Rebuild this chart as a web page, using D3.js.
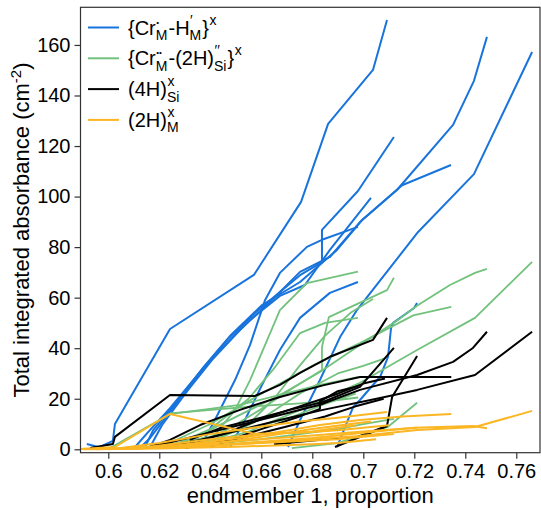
<!DOCTYPE html>
<html><head><meta charset="utf-8">
<script src="https://cdn.jsdelivr.net/npm/d3@7"></script>
<style>body{margin:0;background:#fff}svg{display:block}text{font-family:"Liberation Sans",Arial,sans-serif;fill:#000}</style>
</head><body><svg id="c" width="541" height="510"></svg>
<script>
// ---- data (x = endmember 1 proportion, y = total integrated absorbance) ----
const seriesNames = ["CrH", "Cr2H", "4HSi", "2HM"];
const seriesColors = ["#1874dc", "#72c27d", "#000000", "#fbb623"];
const xTicks = [0.6, 0.62, 0.64, 0.66, 0.68, 0.7, 0.72, 0.74, 0.76];
const xTickLabels = ["0.6", "0.62", "0.64", "0.66", "0.68", "0.7", "0.72", "0.74", "0.76"];
const yTicks = [0, 20, 40, 60, 80, 100, 120, 140, 160];

const blueLines = [
  [[0.5916,2.1],[0.5960,0.9],[0.5991,0.5]],
  [[0.5967,0.9],[0.6018,3.3],[0.6026,10.0],[0.6242,47.6],[0.6571,69.0],[0.6756,97.9],[0.6862,128.8],[0.7038,150.1],[0.7093,169.9]],
  [[0.6124,0.5],[0.6164,4.5],[0.6242,14.8],[0.6371,32.2],[0.6477,44.8],[0.6603,57.1],[0.6752,66.2],[0.6897,78.9],[0.6995,90.7],[0.7132,102.6],[0.7352,128.4],[0.7434,145.8],[0.7485,163.2]],
  [[0.6705,0.9],[0.6752,11.6],[0.6830,27.4],[0.6909,44.4],[0.6975,55.1],[0.7215,86.0],[0.7434,108.9],[0.7662,157.2]],
  [[0.6144,0.9],[0.6176,7.6],[0.6250,16.7],[0.6379,33.0],[0.6469,43.6],[0.6575,53.9],[0.6673,62.2],[0.6752,68.9],[0.6838,74.1],[0.6838,86.8],[0.6979,102.2],[0.7120,123.6]],
  [[0.6164,0.9],[0.6211,9.6],[0.6313,23.5],[0.6407,35.4],[0.6516,47.2],[0.6634,58.3],[0.6752,70.2],[0.6869,76.1],[0.6987,89.9],[0.7152,104.5],[0.7344,112.5]],
  [[0.6105,0.9],[0.6156,6.8],[0.6242,16.3],[0.6360,30.6],[0.6458,41.3],[0.6556,51.2],[0.6673,60.7],[0.6771,65.0],[0.6869,78.9],[0.7030,99.5]],
  [[0.6360,0.9],[0.6418,11.6],[0.6497,27.4],[0.6556,41.3],[0.6615,59.1],[0.6673,69.8],[0.6779,80.1],[0.6838,82.9],[0.6979,88.0]],
  [[0.6477,0.9],[0.6536,11.6],[0.6603,25.5],[0.6673,39.3],[0.6752,52.0],[0.6869,61.9],[0.6979,66.2]],
  [[0.6897,0.9],[0.6960,16.7],[0.6987,19.5],[0.7066,28.7],[0.7097,36.6],[0.7109,48.1],[0.7117,50.0],[0.7199,55.9],[0.7211,57.9]]
];
const greenLines = [
  [[0.620,0.5],[0.635,1.5],[0.655,7.0],[0.6752,15.6],[0.6987,26.3],[0.7211,39.3],[0.7438,52.0],[0.7662,74.2]],
  [[0.6262,1.7],[0.6360,5.7],[0.6516,13.6],[0.6673,21.5],[0.6830,30.6],[0.6987,41.3],[0.7144,51.8],[0.7215,57.1],[0.7340,65.0],[0.7438,69.8],[0.7485,71.4]],
  [[0.615,0.8],[0.625,3.0],[0.640,10.0],[0.660,22.0],[0.680,33.0],[0.6987,42.0],[0.7196,53.0],[0.7345,56.4]],
  [[0.6360,0.9],[0.6418,5.7],[0.6497,15.6],[0.6556,27.4],[0.6615,41.3],[0.6673,55.1],[0.6779,65.8],[0.6979,70.3]],
  [[0.6281,0.5],[0.6360,2.9],[0.6477,8.4],[0.6595,15.6],[0.6712,23.5],[0.6838,31.4],[0.6838,40.5],[0.6865,52.3],[0.7093,63.0],[0.7120,67.9]],
  [[0.6007,0.5],[0.6242,14.0],[0.6360,15.5],[0.6516,17.6],[0.6673,21.5],[0.6830,25.5],[0.6979,28.6]],
  [[0.6720,0.5],[0.6897,2.4],[0.7097,8.9],[0.7211,18.4]],
  [[0.620,0.5],[0.640,3.0],[0.655,10.0],[0.665,20.0],[0.675,33.0],[0.685,45.0],[0.695,54.0],[0.7038,59.5]],
  [[0.625,0.5],[0.645,5.0],[0.660,12.0],[0.675,22.0],[0.690,30.0],[0.700,33.0],[0.7085,36.0]],
  [[0.630,1.0],[0.660,4.0],[0.690,8.0],[0.700,10.0],[0.712,12.0]],
  [[0.615,0.5],[0.630,3.0],[0.650,7.0],[0.670,12.0],[0.685,18.0],[0.697,22.0]],
  [[0.6242,14.2],[0.645,16.0],[0.660,17.2],[0.6752,18.2],[0.690,19.5],[0.698,20.5]],
  [[0.6242,1.0],[0.640,8.0],[0.655,20.0],[0.665,32.0],[0.6752,46.0],[0.685,50.0],[0.6979,52.0]]
];
const blackLines = [
  [[0.5929,0.5],[0.6018,2.1],[0.6026,4.9],[0.6242,21.5],[0.6575,21.1],[0.6673,25.5],[0.6752,30.2],[0.6869,36.6],[0.7038,43.3],[0.7093,52.0]],
  [[0.6203,1.7],[0.6360,5.7],[0.6516,9.6],[0.6673,13.6],[0.6830,17.6],[0.6987,23.5],[0.7211,29.4],[0.7352,34.6],[0.7430,40.1],[0.7485,46.5]],
  [[0.6242,1.3],[0.6360,3.7],[0.6516,7.6],[0.6673,11.6],[0.6842,15.6],[0.7066,20.3],[0.7211,23.5],[0.7438,29.4],[0.7662,46.5]],
  [[0.6320,3.7],[0.6438,8.4],[0.6595,12.4],[0.6712,15.6],[0.6842,18.7],[0.6987,24.7],[0.7120,40.1]],
  [[0.6889,0.9],[0.7093,9.2],[0.7113,20.7],[0.7211,36.9]],
  [[0.6164,0.9],[0.6242,3.7],[0.6360,9.6],[0.6516,15.6],[0.6673,20.7],[0.6842,25.3],[0.6987,28.6],[0.7345,28.6]],
  [[0.625,0.5],[0.645,6.0],[0.660,12.0],[0.675,17.0],[0.690,22.0],[0.700,26.0],[0.7085,28.0]],
  [[0.630,0.5],[0.650,4.0],[0.670,9.0],[0.685,13.0],[0.697,17.0],[0.708,20.0]],
  [[0.640,1.0],[0.660,8.0],[0.675,13.0],[0.683,16.0],[0.683,19.0],[0.690,23.0],[0.698,25.0]],
  [[0.665,2.0],[0.680,3.5],[0.698,5.0],[0.7093,9.2]]
];
const orangeLines = [
  [[0.5889,0.1],[0.6026,0.9],[0.6242,14.0],[0.6575,6.1],[0.6752,6.5],[0.690,7.5],[0.700,8.5],[0.710,9.5]],
  [[0.6046,0.1],[0.6281,0.9],[0.6516,2.1],[0.6752,3.7],[0.6987,5.3],[0.7211,7.6],[0.7438,8.8],[0.7662,15.2]],
  [[0.6007,0.1],[0.6281,1.7],[0.6516,4.5],[0.6673,6.9],[0.6830,9.6],[0.6987,11.6],[0.7155,13.0],[0.7345,14.0]],
  [[0.610,0.3],[0.640,1.5],[0.660,3.0],[0.680,4.5],[0.700,6.5],[0.720,8.5],[0.7430,9.2],[0.7485,8.3]],
  [[0.605,0.5],[0.620,2.5],[0.640,6.0],[0.660,9.0],[0.675,11.0],[0.690,12.5],[0.7093,14.8]],
  [[0.600,0.2],[0.620,1.0],[0.640,2.5],[0.660,4.0],[0.680,5.5],[0.700,7.0],[0.7211,8.5]],
  [[0.590,0.0],[0.620,0.3],[0.650,1.0],[0.680,2.0],[0.690,2.5],[0.705,4.0]],
  [[0.595,0.0],[0.630,1.0],[0.660,2.5],[0.690,4.0],[0.700,5.0],[0.712,6.0]],
  [[0.600,0.0],[0.640,2.0],[0.660,5.0],[0.680,8.0],[0.695,10.0],[0.703,11.0]],
  [[0.610,0.2],[0.640,4.0],[0.660,6.0],[0.680,7.0],[0.690,8.5],[0.697,9.5]]
];
const allSeries = [blueLines, greenLines, blackLines, orangeLines];

// ---- layout ----
const svg = d3.select("#c");
const L = 80.5, R = 540, T = 7.3, B = 452.7;
const x = d3.scaleLinear().domain([0.5891, 0.7693]).range([L, R]);
const y = d3.scaleLinear().domain([-1.35, 174.9]).range([B, T]);
const line = d3.line().x(d => x(d[0])).y(d => y(d[1]));

const plot = svg.append("g");
allSeries.forEach((lines, i) => {
  plot.selectAll(null).data(lines).enter().append("path")
    .attr("d", line).attr("fill", "none")
    .attr("stroke", seriesColors[i]).attr("stroke-width", i === 1 ? 1.8 : 2)
    .attr("stroke-linejoin", "round");
});

// frame
svg.append("rect").attr("x", L).attr("y", T).attr("width", R - L).attr("height", B - T)
  .attr("fill", "none").attr("stroke", "#333").attr("stroke-width", 1.2);

// axes
const xAxis = svg.append("g").attr("transform", `translate(0,${B})`)
  .call(d3.axisBottom(x).tickValues(xTicks).tickFormat((d, i) => xTickLabels[i]).tickSize(6).tickPadding(5));
const yAxis = svg.append("g").attr("transform", `translate(${L},0)`)
  .call(d3.axisLeft(y).tickValues(yTicks).tickSize(6).tickPadding(4));
[xAxis, yAxis].forEach(a => {
  a.select(".domain").remove();
  a.selectAll(".tick line").attr("stroke", "#333").attr("stroke-width", 1.2);
  a.selectAll(".tick text").attr("font-size", 20).attr("font-family", "Liberation Sans, Arial, sans-serif").attr("fill", "#000");
});

// axis labels
svg.append("text").attr("x", (L + R) / 2).attr("y", 503).attr("text-anchor", "middle")
  .attr("font-size", 22).text("endmember 1, proportion");
const yl = svg.append("text").attr("transform", `translate(29,${(T + B) / 2}) rotate(-90)`)
  .attr("text-anchor", "middle").attr("font-size", 22);
yl.append("tspan").text("Total integrated absorbance (cm");
yl.append("tspan").attr("font-size", 15).attr("dy", -8).text("-2");
yl.append("tspan").attr("dy", 8).text(")");

// legend
const legendItems = [
  [{t: "{Cr"}, {sup: "•", sub: "M", supSize: 8}, {t: "-H"}, {sup: "′", sub: "M"}, {t: "}"}, {sup: "x"}],
  [{t: "{Cr"}, {sup: "••", sub: "M", supSize: 8}, {t: "-(2H)"}, {sup: "′′", sub: "Si"}, {t: "}"}, {sup: "x"}],
  [{t: "(4H)"}, {sup: "x", sub: "Si"}],
  [{t: "(2H)"}, {sup: "x", sub: "M"}]
];
const leg = svg.append("g");
legendItems.forEach((parts, i) => {
  const cy = 27.5 + i * 30.8;
  leg.append("line").attr("x1", 88).attr("x2", 119).attr("y1", cy).attr("y2", cy)
    .attr("stroke", seriesColors[i]).attr("stroke-width", 2);
  let cx = 128;
  const base = cy + 7;
  parts.forEach(p => {
    if (p.t) {
      const t = leg.append("text").attr("x", cx).attr("y", base).attr("font-size", 20).text(p.t);
      cx += t.node().getComputedTextLength();
    } else {
      let w = 0;
      if (p.sup) {
        const s = leg.append("text").attr("x", cx + 0.5).attr("y", base - 10).attr("font-size", p.supSize || 14).text(p.sup);
        w = Math.max(w, s.node().getComputedTextLength());
      }
      if (p.sub) {
        const s = leg.append("text").attr("x", cx).attr("y", base + 5.5).attr("font-size", 14).text(p.sub);
        w = Math.max(w, s.node().getComputedTextLength());
      }
      cx += w + 1;
    }
  });
});
</script></body></html>
